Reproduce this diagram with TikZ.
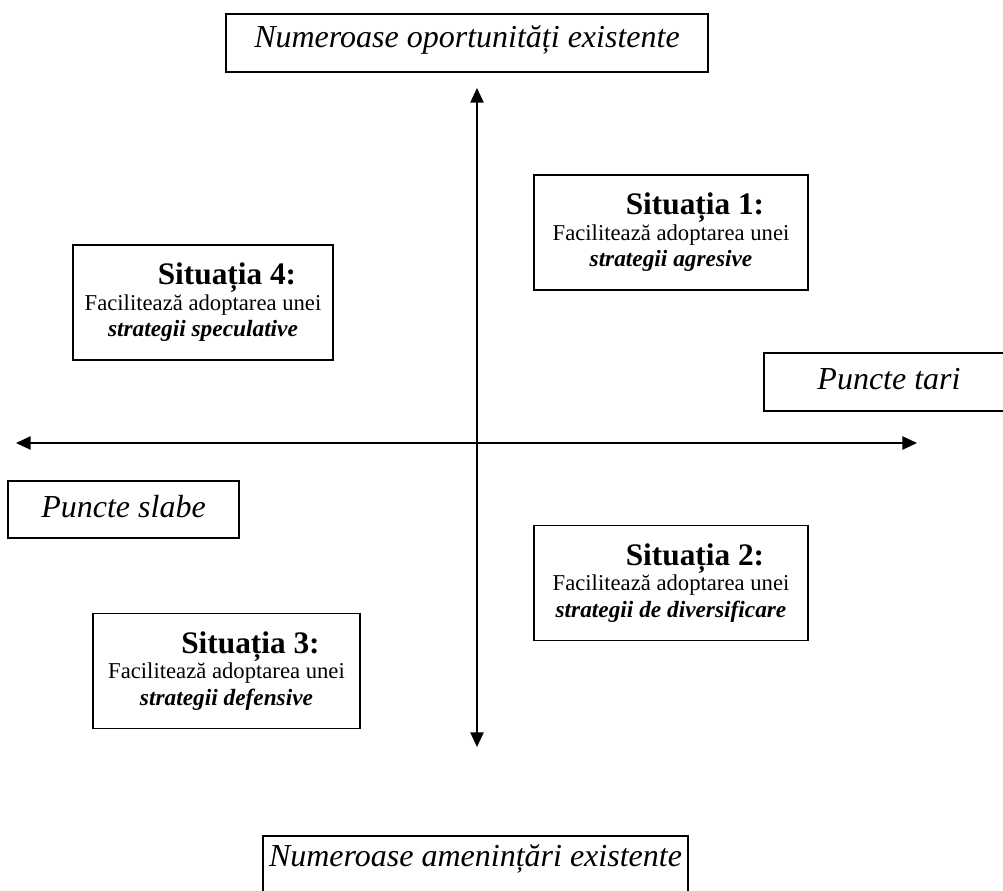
\documentclass[tikz,border=0pt]{standalone}
\usepackage{fontspec}
\setmainfont{Liberation Serif}
\usetikzlibrary{arrows.meta}

\newcommand\sithead[1]{\hspace*{36pt}{\fontsize{23.5}{26}\selectfont\bfseries #1}}
\newcommand\strat[1]{{\fontsize{17.5}{20}\selectfont\bfseries\itshape #1}}

\begin{document}
\begin{tikzpicture}[x=0.75pt,y=-0.75pt,
  box/.style={draw,line width=1.1pt,inner sep=0pt,align=center},
  sit/.style={box,minimum height=86pt,
    font=\fontsize{17}{20}\selectfont},
  lbl/.style={box,anchor=base,text height=27pt,text depth=16pt,
    font=\fontsize{24}{27}\selectfont\itshape},
  axis/.style={line width=1.1pt,{Triangle[length=11pt,width=10pt]}-{Triangle[length=11pt,width=10pt]}}]
  \useasboundingbox (0,0) rectangle (1003,891);
  % the two axes
  \coordinate (xl) at (16,443);
  \coordinate (xr) at (917,443);
  \coordinate (yt) at (477,88);
  \coordinate (yb) at (477,747);
  \draw[axis] (xl) -- (xr);
  \draw[axis] (yb) -- (yt);
  % axis labels
  \node[lbl,minimum width=361.5pt,text height=25.5pt,text depth=18pt] (opp) at (467,48)
    {Numeroase oportunități existente};
  \node[lbl,minimum width=318.75pt,text height=22.5pt,text depth=30pt] (thr) at (475.5,866)
    {Numeroase amenințări existente};
  \node[lbl,minimum width=187.5pt,text depth=16.5pt] (str) at (889,389)
    {Puncte tari};
  \node[lbl,minimum width=173.25pt,text depth=15.75pt] (wk) at (123.5,517)
    {Puncte slabe};
  % the four situations
  \node[sit,minimum width=205.5pt] (s1) at (671,232.5)
    {\sithead{Situația 1:}\\[-1pt]
     Facilitează adoptarea unei\\ \strat{strategii agresive}};
  \node[sit,minimum width=195pt] (s4) at (203,302.5)
    {\sithead{Situația 4:}\\[-1pt]
     Facilitează adoptarea unei\\ \strat{strategii speculative}};
  \node[sit,minimum width=205.5pt] (s2) at (671,583)
    {\sithead{Situația 2:}\\[-1pt]
     Facilitează adoptarea unei\\ \strat{strategii de diversificare}};
  \node[sit,minimum width=200.25pt] (s3) at (226.5,671)
    {\sithead{Situația 3:}\\[-1pt]
     Facilitează adoptarea unei\\ \strat{strategii defensive}};
\end{tikzpicture}
\end{document}
